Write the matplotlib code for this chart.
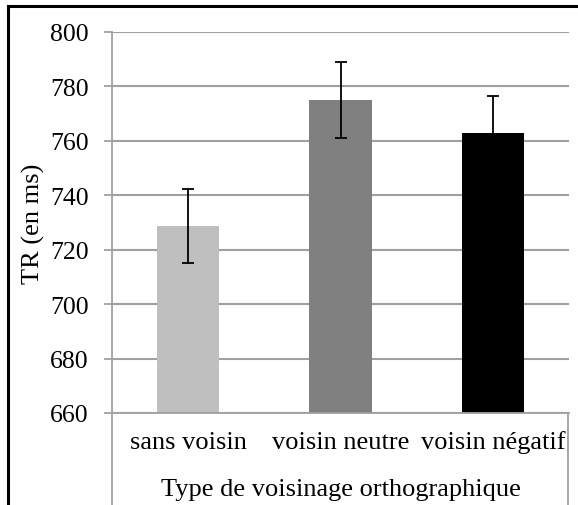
import numpy as np
import matplotlib.pyplot as plt
from matplotlib.lines import Line2D
from matplotlib.transforms import blended_transform_factory

# data
categories = ["sans voisin", "voisin neutre", "voisin négatif"]
tr_means = [728.7, 775.0, 762.9]
tr_errors = [13.7, 13.8, 13.6]
bar_colors = ["#BFBFBF", "#808080", "#000000"]
y_ticks = [660, 680, 700, 720, 740, 760, 780, 800]

W, H = 578, 506
plt.rcParams['font.family'] = ['Liberation Serif', 'DejaVu Serif']
fs = 19

fig = plt.figure(figsize=(W / 100, H / 100), dpi=100)

# plot area in pixels: left 112, right 569, top 33, bottom 414
L, R, T, B = 112, 569, 33, 414
ax = fig.add_axes([L / W, 1 - B / H, (R - L) / W, (B - T) / H])

x = np.arange(len(categories))
ax.bar(x, [m - y_ticks[0] for m in tr_means], bottom=y_ticks[0], width=0.41,
       color=bar_colors, zorder=2)
ax.errorbar(x, tr_means, yerr=tr_errors, fmt='none', ecolor='black',
            elinewidth=1.3, capsize=4.3, capthick=1.3, zorder=3)

ax.set_xlim(-0.5, len(categories) - 0.5)
ax.set_ylim(660, 800)
ax.set_yticks(y_ticks)
ax.set_yticklabels([str(v) for v in y_ticks], fontsize=fs - 0.5)
ax.tick_params(axis='y', length=5.8, width=1.3, color='#A0A0A0', pad=11)
ax.set_xticks([])
ax.grid(axis='y', color='#A0A0A0', linewidth=1.5, zorder=0)
for side in ['top', 'right']:
    ax.spines[side].set_visible(False)
ax.spines['left'].set_color('#A0A0A0')
ax.spines['left'].set_linewidth(1.3)
ax.spines['bottom'].set_color('#A0A0A0')
ax.spines['bottom'].set_linewidth(1.3)

ax.set_ylabel("TR (en ms)", fontsize=fs)
ax.yaxis.set_label_coords((45 - L) / (R - L), 0.5)

# category labels below the axis
trans = blended_transform_factory(ax.transData, fig.transFigure)
for i, c in enumerate(categories):
    ax.text(i, 1 - 443 / H, c, transform=trans,
            ha='center', va='center', fontsize=fs, clip_on=False)
fig.text(((L + R) / 2) / W, 1 - 490 / H, "Type de voisinage orthographique",
         ha='center', va='center', fontsize=fs)

# vertical category separators running to the bottom edge
for px in [L, 568]:
    fig.add_artist(Line2D([px / W, px / W], [0, 1 - B / H], color='#A0A0A0',
                          linewidth=1.3, transform=fig.transFigure))

# chart border (left and top only visible)
fig.add_artist(Line2D([8 / W, 8 / W], [0, 1 - 7 / H], color='black',
                      linewidth=2.2, transform=fig.transFigure))
fig.add_artist(Line2D([8 / W, 1], [1 - 7 / H, 1 - 7 / H], color='black',
                      linewidth=2.2, transform=fig.transFigure))

plt.savefig("out.png", dpi=100)
